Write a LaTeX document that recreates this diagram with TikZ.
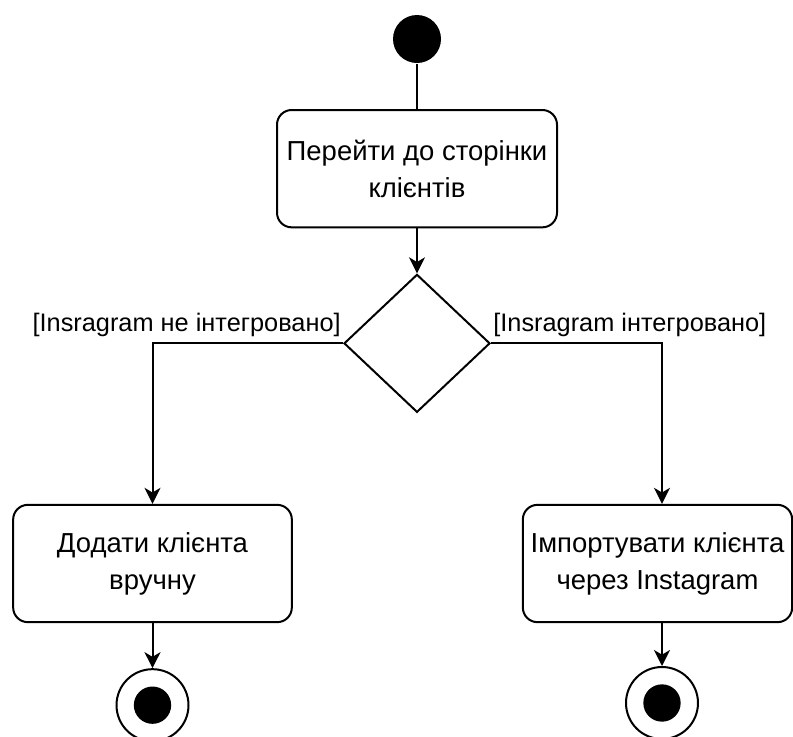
\documentclass[tikz,border=0pt]{standalone}
\usepackage{fontspec}
\setmainfont{Liberation Sans}
\usepackage{xcolor}
\usetikzlibrary{arrows.meta,positioning,shapes.geometric}
\definecolor{LineBlack}{HTML}{000000}
\definecolor{PageWhite}{HTML}{FFFFFF}

\begin{document}
\begin{tikzpicture}[
        x=0.75pt, y=-0.75pt,
        line width=1.5pt,
        flow/.style={-{Stealth[length=12pt,width=12pt,inset=3.5pt]}},
        actbox/.style={draw=LineBlack, fill=PageWhite, rounded corners=11pt,
            minimum height=88pt, align=center,
            font=\fontsize{20.6}{27.75}\selectfont},
        guard/.style={inner sep=1pt, font=\fontsize{19}{23}\selectfont},
        initstate/.style={circle, fill=LineBlack, minimum size=36pt, inner sep=0pt},
        endstate/.style={circle, draw=LineBlack, fill=PageWhite, minimum size=54pt, inner sep=0pt,
            path picture={\fill[LineBlack] (path picture bounding box.center) circle (14pt);}},
        choicebox/.style={diamond, draw=LineBlack, fill=PageWhite, minimum width=109.5pt,
            minimum height=103.5pt, inner sep=0pt}
    ]
        \useasboundingbox (0,0) rectangle (793,736);

        % main column
        \node[initstate] (start) at (417,39) {};
        \node[actbox, minimum width=210pt, below=33.75pt of start] (open) {Перейти до сторінки\\клієнтів};
        \node[choicebox, below=33.75pt of open] (choice) {};

        % two branches
        \node[actbox, minimum width=209pt] (manual) at (152.5,563.5) {Додати клієнта\\вручну};
        \node[actbox, minimum width=202pt] (import) at (657.5,563.5) {Імпортувати клієнта\\через Instagram};
        \node[endstate, below=33.75pt of manual] (done1) {};
        \node[endstate] (done2) at (662,703) {};

        \draw (start) -- (open);
        \draw[flow] (open) -- (choice);
        \draw[flow] (choice.west) -| (manual.north);
        \draw[flow] (choice.east) -| (done2 |- import.north);
        \draw[flow] (manual) -- (done1);
        \draw[flow] (done2 |- import.south) -- (done2);

        \node[guard, anchor=south east] (noig) at ([yshift=3pt]choice.west) {[Insragram не інтегровано]};
        \node[guard, anchor=south west] (withig) at ([yshift=3pt]choice.east) {[Insragram інтегровано]};
    \end{tikzpicture}
\end{document}
